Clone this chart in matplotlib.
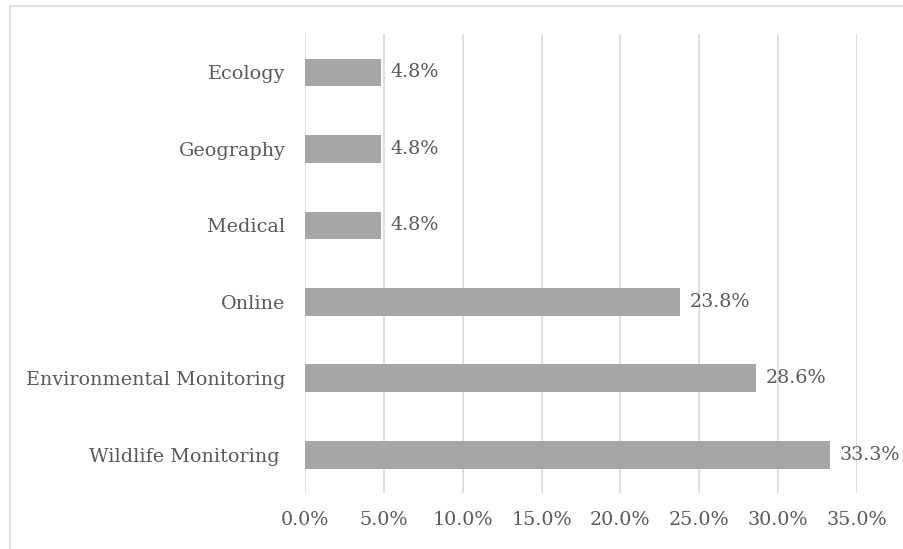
import matplotlib
matplotlib.use("Agg")
from matplotlib import pyplot as plt
from matplotlib.patches import Rectangle
from matplotlib.ticker import FuncFormatter

categories = ["Wildlife Monitoring ", "Environmental Monitoring", "Online",
              "Medical", "Geography", "Ecology"]
shares = [33.3, 28.6, 23.8, 4.8, 4.8, 4.8]
x_ticks = [0, 5, 10, 15, 20, 25, 30, 35]

TEXT = "#595959"
plt.rcParams["font.family"] = ["DejaVu Serif"]

fig = plt.figure(figsize=(9.04, 5.49), dpi=100)
ax = fig.add_axes([0.3374, 0.102, 0.6106, 0.836])

# light border of the chart area (cropped at right and bottom)
fig.patches.append(Rectangle((10 / 904, -0.1), 1.2, 1 - 6 / 549 + 0.1,
                             transform=fig.transFigure, fill=False,
                             edgecolor="#d9d9d9", linewidth=1.2))

y = range(len(categories))
bars = ax.barh(y, shares, height=0.36, color="#a6a6a8", zorder=3)

for b, v in zip(bars, shares):
    ax.text(b.get_width() + 0.6, b.get_y() + b.get_height() / 2, f"{v:.1f}%",
            va="center", ha="left", fontsize=13.8, color=TEXT, clip_on=False)

ax.set_xlim(0, 35)
ax.set_ylim(-0.5, len(categories) - 0.5)
ax.set_xticks(x_ticks)
ax.xaxis.set_major_formatter(FuncFormatter(lambda v, p: f"{v:.1f}%"))
ax.set_yticks(list(y))
ax.set_yticklabels(categories)
ax.tick_params(axis="both", length=0, labelsize=13.8, labelcolor=TEXT)
ax.tick_params(axis="y", pad=14)
ax.tick_params(axis="x", pad=13)
ax.grid(axis="x", color="#d9d9d9", linewidth=1.2, zorder=0)
for s in ax.spines.values():
    s.set_visible(False)

fig.savefig("out.png", dpi=100)
